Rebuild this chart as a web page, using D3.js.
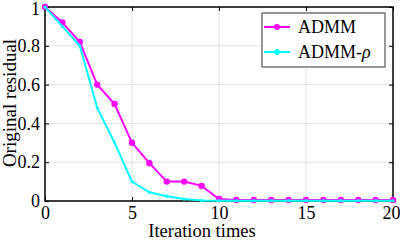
<!DOCTYPE html>
<html><head><meta charset="utf-8">
<script src="https://cdn.jsdelivr.net/npm/d3@7"></script>
<style>body{margin:0;background:#fff;}svg{display:block;font-family:"Liberation Serif","Times New Roman",serif;}svg text{font-family:"Liberation Serif","Times New Roman",serif !important;}</style>
</head><body><svg id="c" width="400" height="241"></svg>
<script>
const iterations = d3.range(0, 21);
const admm = [1, 0.92, 0.82, 0.6, 0.5, 0.3, 0.195, 0.1, 0.1, 0.078, 0.01, 0.005, 0.005, 0.005, 0.005, 0.005, 0.005, 0.005, 0.005, 0.005, 0.005];
const admmRho = [1, 0.9, 0.8, 0.48, 0.3, 0.1, 0.045, 0.025, 0.01, 0.002, 0.001, 0.001, 0.001, 0.001, 0.001, 0.001, 0.001, 0.001, 0.001, 0.001, 0.001];
const xTicks = [0, 5, 10, 15, 20];
const yTicks = [0, 0.2, 0.4, 0.6, 0.8, 1];
const seriesNames = ["ADMM", "ADMM-ρ"];
const colors = ["#ff00ff", "#00ffff"];

const svg = d3.select("#c");
const m = {l: 45, r: 7, t: 7, b: 40};
const W = 400, H = 241;
const FS = 18;
const x = d3.scaleLinear().domain([0, 20]).range([m.l, W - m.r]);
const y = d3.scaleLinear().domain([0, 1]).range([H - m.b, m.t]);

// grid
svg.append("g").selectAll("line").data(xTicks).join("line")
  .attr("x1", d => x(d)).attr("x2", d => x(d)).attr("y1", y(0)).attr("y2", y(1))
  .attr("stroke", "#e3e3e3").attr("stroke-width", 1);
svg.append("g").selectAll("line").data(yTicks).join("line")
  .attr("y1", d => y(d)).attr("y2", d => y(d)).attr("x1", x(0)).attr("x2", x(20))
  .attr("stroke", "#e3e3e3").attr("stroke-width", 1);

// axes
const fmt = d => d === 0 ? "0" : d === 1 ? "1" : d3.format(".1f")(d);
const xa = svg.append("g").attr("transform", `translate(0,${y(0)})`)
  .call(d3.axisBottom(x).tickValues(xTicks).tickSize(-4).tickPadding(5).tickFormat(d3.format("d")));
const ya = svg.append("g").attr("transform", `translate(${x(0)},0)`)
  .call(d3.axisLeft(y).tickValues(yTicks).tickSize(-4).tickPadding(5).tickFormat(fmt));
const xt = svg.append("g").attr("transform", `translate(0,${y(1)})`)
  .call(d3.axisTop(x).tickValues(xTicks).tickSize(-4).tickFormat(""));
const yr = svg.append("g").attr("transform", `translate(${x(20)},0)`)
  .call(d3.axisRight(y).tickValues(yTicks).tickSize(-4).tickFormat(""));
[xa, ya, xt, yr].forEach(g => {
  g.attr("font-family", null).attr("font-size", FS);
  g.select(".domain").remove();
  g.selectAll("line").attr("stroke", "#000").attr("stroke-width", 1);
  g.selectAll("text").attr("fill", "#000");
});
// keep the top "1" and right "20" inside the picture
ya.selectAll("text").filter(d => d === 1).attr("dy", "0.36em").attr("y", 1.5);
xa.selectAll("text").filter(d => d === 20).attr("text-anchor", "end").attr("x", 7);
svg.append("rect").attr("x", x(0)).attr("y", y(1)).attr("width", x(20) - x(0)).attr("height", y(0) - y(1))
  .attr("fill", "none").attr("stroke", "#000").attr("stroke-width", 1.5);

// lines
const data = [admm, admmRho];
const line = d3.line().x((d, i) => x(iterations[i])).y(d => y(d));
const radii = [3.2, 1.6];
data.forEach((s, k) => {
  const g = svg.append("g");
  g.append("path").datum(s).attr("d", line).attr("fill", "none").attr("stroke", colors[k]).attr("stroke-width", 2);
  g.selectAll("circle").data(s).join("circle")
    .attr("cx", (d, i) => x(iterations[i])).attr("cy", d => y(d)).attr("r", radii[k]).attr("fill", colors[k]);
});

// axis titles
svg.append("text").attr("x", 202).attr("y", 237).attr("text-anchor", "middle")
  .attr("font-size", 18.5).text("Iteration times");
svg.append("text").attr("transform", `translate(16,103) rotate(-90)`).attr("text-anchor", "middle")
  .attr("font-size", 19).text("Original residual");

// legend
const lg = svg.append("g").attr("transform", "translate(262,13)");
lg.append("rect").attr("width", 123).attr("height", 54).attr("fill", "#fff").attr("stroke", "#333").attr("stroke-width", 1);
seriesNames.forEach((n, k) => {
  const yy = 14 + k * 25;
  lg.append("line").attr("x1", 2).attr("x2", 28).attr("y1", yy).attr("y2", yy).attr("stroke", colors[k]).attr("stroke-width", 2);
  lg.append("circle").attr("cx", 15).attr("cy", yy).attr("r", 3).attr("fill", colors[k]);
  const t = lg.append("text").attr("x", 36).attr("y", yy + 6).attr("font-size", FS);
  if (k === 0) t.text(n);
  else { t.append("tspan").text("ADMM-"); t.append("tspan").attr("font-style", "italic").text("ρ"); }
});
</script></body></html>
